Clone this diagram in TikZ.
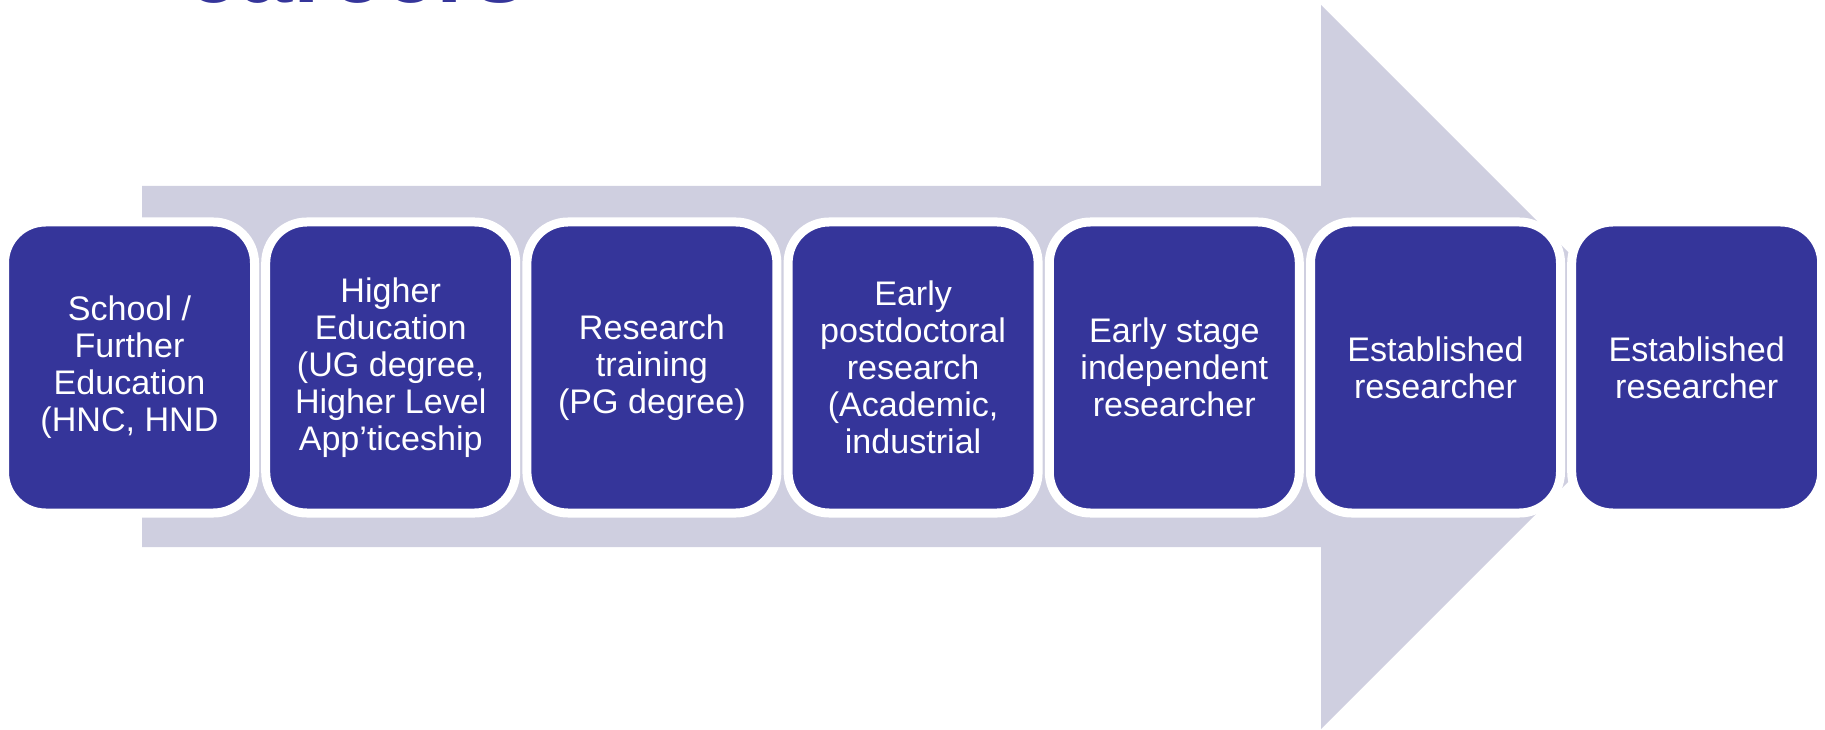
\documentclass[tikz,border=0pt]{standalone}
\usepackage{fontspec}
\setmainfont{Liberation Sans}
\definecolor{stepblue}{HTML}{35359A}
\definecolor{arrowgrey}{HTML}{CFCFE0}

\begin{document}
\begin{tikzpicture}[unit length/.code={{\newdimen\tikzunit}\setlength{\tikzunit}{#1}},unit length=0.1mm,x=\tikzunit,y=-\tikzunit,stage/.style={rectangle,draw=white,line width=9\tikzunit,fill=stepblue,rounded corners=41\tikzunit,minimum width=250\tikzunit,minimum height=291\tikzunit,inner sep=0,text=white,align=center,font=\fontsize{9.7pt}{10.55pt}\selectfont},band/.style={fill=arrowgrey,draw=none},title/.style={text=stepblue,inner sep=0,font=\fontsize{27.2pt}{32pt}\selectfont\bfseries}]
  \useasboundingbox (0,0) rectangle (1825,730);
  \clip (0,0) rectangle (1825,730);
  \node[title,anchor=base west] (t1) at (186,2.5) {careers};
  \path[band] (142,186) -- (1321,186) -- (1321,5) -- (1683,367) -- (1321,729) -- (1321,547) -- (142,547) -- cycle;
  \node[stage] (n1) at (129.5,367.5) {School /\\Further\\Education\\(HNC, HND};
  \node[stage] (n2) at (390.7,367.5) {Higher\\Education\\(UG degree,\\Higher Level\\App’ticeship};
  \node[stage] (n3) at (651.9,367.5) {Research\\training\\(PG degree)};
  \node[stage] (n4) at (913.1,367.5) {Early\\postdoctoral\\research\\(Academic,\\industrial};
  \node[stage] (n5) at (1174.3,367.5) {Early stage\\independent\\researcher};
  \node[stage] (n6) at (1435.5,367.5) {Established\\researcher};
  \node[stage] (n7) at (1696.7,367.5) {Established\\researcher};
\end{tikzpicture}
\end{document}
